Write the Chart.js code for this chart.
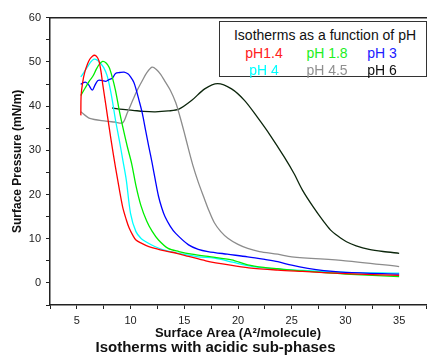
<!DOCTYPE html>
<html>
<head>
<meta charset="utf-8">
<script src="https://cdn.jsdelivr.net/npm/chart.js@4/dist/chart.umd.min.js"></script>
<style>
  html, body { margin: 0; padding: 0; background: #fff; overflow: hidden; }
  #wrap { position: relative; width: 431px; height: 363px; }
  #legendBox {
    position: absolute; left: 219px; top: 21px; width: 206px; height: 54px;
    border: 1.5px solid #333; background: #fff;
    font-family: Arial, "Liberation Sans", sans-serif; font-size: 14px;
  }
  #legendBox span { position: absolute; transform: translate(-50%, -50%); white-space: nowrap; }
</style>
</head>
<body>
<div id="wrap">
  <canvas id="isoChart" width="431" height="363"></canvas>
  <div id="legendBox">
    <span style="left:105px; top:13px; color:#111">Isotherms as a function of pH</span>
    <span style="left:44px; top:31px; color:#ff2020">pH1.4</span>
    <span style="left:107px; top:31px; color:#22ee22">pH 1.8</span>
    <span style="left:162px; top:31px; color:#2020ff">pH 3</span>
    <span style="left:44px; top:48px; color:#00ffff">pH 4</span>
    <span style="left:107px; top:48px; color:#909090">pH 4.5</span>
    <span style="left:162px; top:48px; color:#111">pH 6</span>
  </div>
</div>
<script>
// ===== データ =====
const seriesLabels = ["pH1.4", "pH 1.8", "pH 3", "pH 4", "pH 4.5", "pH 6"];
const seriesColors = ["#ff0000", "#00ee00", "#0000ff", "#00ffff", "#8c8c8c", "#0c260c"];

const areaPH14 = [5.37, 5.40, 5.55, 5.75, 6.0, 6.2, 6.45, 6.65, 6.85, 7.05, 7.25, 7.4, 7.7, 8.0, 8.4, 8.8, 9.26, 9.6, 9.87, 10.2, 10.5, 11.0, 11.7, 12.6, 13.5, 14.3, 15.4, 17.0, 19.3, 21.0, 23.7, 26.0, 30.0, 35.0];
const pressPH14 = [37.9, 42.5, 45.5, 47.8, 49.6, 50.6, 51.3, 51.5, 51.2, 50.3, 47.8, 45.1, 40.2, 35.3, 29.0, 23.3, 17.2, 14.3, 12.4, 10.8, 9.7, 9.0, 8.2, 7.6, 7.1, 6.7, 6.0, 5.0, 4.0, 3.4, 2.9, 2.6, 2.1, 1.7];

const areaPH18 = [5.37, 5.8, 6.2, 6.5, 6.8, 7.1, 7.4, 7.7, 8.0, 8.3, 8.6, 8.95, 9.3, 9.7, 10.1, 10.5, 10.95, 11.5, 12.0, 12.6, 13.5, 14.5, 15.7, 17.5, 19.4, 20.9, 22.4, 23.7, 26.0, 30.0, 35.0];
const pressPH18 = [42.4, 44.2, 45.8, 46.8, 48.3, 49.5, 50.1, 49.8, 48.8, 46.5, 43.5, 39.0, 35.0, 30.8, 27.0, 22.0, 17.6, 14.0, 11.7, 9.7, 7.8, 7.1, 6.5, 5.9, 5.2, 4.1, 3.5, 3.2, 2.7, 2.0, 1.4];

const areaPH3 = [5.37, 5.6, 5.83, 6.1, 6.44, 6.7, 6.96, 7.3, 7.7, 8.0, 8.3, 8.6, 9.0, 9.4, 9.75, 10.0, 10.3, 10.5, 10.8, 11.1, 11.4, 11.7, 12.0, 12.3, 12.6, 12.9, 13.2, 13.7, 14.2, 15.4, 16.3, 17.2, 19.0, 20.9, 22.5, 23.7, 25.0, 26.5, 28.0, 30.0, 35.0];
const pressPH3 = [44.9, 45.3, 45.4, 44.8, 43.6, 44.8, 45.8, 45.8, 45.6, 46.0, 46.3, 47.4, 47.6, 47.7, 47.3, 46.6, 45.4, 43.9, 41.2, 38.3, 34.5, 30.8, 27.2, 23.3, 19.6, 17.0, 15.0, 12.8, 11.2, 8.6, 7.6, 7.1, 6.5, 5.9, 5.3, 4.8, 4.0, 3.3, 2.8, 2.4, 2.0];

const areaPH4 = [5.37, 5.7, 6.0, 6.3, 6.6, 6.9, 7.2, 7.5, 7.8, 8.05, 8.3, 8.6, 8.95, 9.3, 9.6, 10.0, 10.5, 11.0, 11.5, 12.2, 12.9, 14.0, 15.1, 16.3, 17.8, 19.5, 20.9, 22.0, 23.7, 26.0, 30.0, 35.0];
const pressPH4 = [46.6, 47.8, 48.9, 50.0, 50.6, 50.4, 49.7, 48.7, 47.0, 44.5, 41.3, 36.8, 32.3, 27.5, 23.3, 15.7, 11.6, 10.0, 9.2, 8.3, 7.6, 6.9, 6.4, 5.9, 5.6, 4.7, 3.9, 3.5, 3.1, 2.8, 2.4, 2.2];

const areaPH45 = [5.37, 6.2, 7.7, 8.5, 9.26, 9.7, 10.2, 10.6, 11.1, 11.5, 12.0, 12.4, 12.8, 13.2, 13.7, 14.2, 14.6, 15.0, 15.4, 15.8, 16.3, 16.8, 17.3, 17.8, 18.4, 19.06, 20.0, 20.9, 22.0, 23.7, 25.0, 30.0, 35.0];
const pressPH45 = [38.7, 37.2, 36.6, 36.4, 36.2, 38.5, 41.3, 43.5, 45.8, 47.5, 48.8, 48.3, 47.2, 45.6, 43.6, 40.8, 37.6, 34.0, 30.2, 26.6, 22.8, 19.5, 16.3, 13.6, 11.6, 10.1, 8.7, 7.8, 7.1, 6.5, 5.9, 5.0, 3.7];

const areaPH6 = [8.28, 9.0, 10.2, 11.2, 12.3, 13.5, 14.5, 15.7, 16.9, 18.1, 19.4, 20.6, 21.8, 23.0, 24.3, 25.2, 26.0, 27.0, 28.0, 28.6, 29.3, 30.1, 31.0, 32.2, 33.5, 35.0];
const pressPH6 = [39.6, 39.3, 39.05, 38.8, 38.7, 38.9, 39.3, 41.3, 43.9, 45.1, 43.9, 41.3, 37.5, 33.4, 28.5, 24.8, 21.0, 17.2, 13.8, 12.0, 10.6, 9.3, 8.4, 7.6, 7.1, 6.7];

const xTickMin = 2.5, xTickMax = 37.5, xStep = 2.5;
const yTickMin = -5, yTickMax = 60, yStep = 5;

// ===== グラフ作成 =====
const areas = [areaPH14, areaPH18, areaPH3, areaPH4, areaPH45, areaPH6];
const pressures = [pressPH14, pressPH18, pressPH3, pressPH4, pressPH45, pressPH6];

const datasets = seriesLabels.map((label, i) => ({
  label,
  data: areas[i].map((x, j) => ({ x, y: pressures[i][j] })),
  borderColor: seriesColors[i],
  borderWidth: 1.3,
  pointRadius: 0,
  tension: 0.3,
  fill: false
}));

Chart.defaults.font.family = 'Arial, "Liberation Sans", sans-serif';
Chart.defaults.color = "#222";

const axisGrid = {
  drawOnChartArea: false,
  drawTicks: true,
  tickLength: 4,
  color: "#222",
  tickColor: "#222"
};

new Chart(document.getElementById("isoChart"), {
  type: "line",
  data: { datasets },
  options: {
    responsive: false,
    animation: false,
    layout: { padding: { top: 17.7, left: 0, right: 0, bottom: 0 } },
    plugins: {
      legend: { display: false },
      tooltip: { enabled: false },
      title: {
        display: true,
        position: "bottom",
        text: "Isotherms with acidic sub-phases",
        color: "#111",
        font: { size: 15, weight: "bold", lineHeight: 1 },
        padding: { top: 0, bottom: 8 }
      }
    },
    scales: {
      x: {
        type: "linear",
        min: xTickMin,
        max: xTickMax,
        grid: axisGrid,
        border: { display: true, color: "#222", width: 1.5 },
        ticks: {
          stepSize: xStep,
          autoSkip: false,
          maxRotation: 0,
          padding: 5,
          font: { size: 11 },
          callback: (v) => (v % 5 === 0 ? String(v) : "")
        },
        title: {
          display: true,
          text: "Surface Area (A²/molecule)",
          color: "#111",
          font: { size: 13, weight: "bold", lineHeight: 1 },
          padding: { top: 0, bottom: 0 }
        },
        afterFit: (scale) => { scale.height = 35; }
      },
      xTop: {
        type: "linear",
        position: "top",
        min: xTickMin,
        max: xTickMax,
        grid: { drawOnChartArea: false, drawTicks: false },
        border: { display: true, color: "#222", width: 1.5 },
        ticks: { display: false },
        afterFit: (scale) => { scale.height = 0; }
      },
      y: {
        min: yTickMin,
        max: yTickMax,
        grid: axisGrid,
        border: { display: true, color: "#222", width: 1.5 },
        ticks: {
          stepSize: yStep,
          autoSkip: false,
          padding: 5,
          font: { size: 11 },
          callback: (v) => (v % 10 === 0 ? String(v) : "")
        },
        title: {
          display: true,
          text: "Surface Pressure (mN/m)",
          color: "#111",
          font: { size: 12, weight: "bold" },
          padding: { top: 10, bottom: 0 }
        },
        afterFit: (scale) => { scale.width = 50; }
      }
    }
  }
});
</script>
</body>
</html>
